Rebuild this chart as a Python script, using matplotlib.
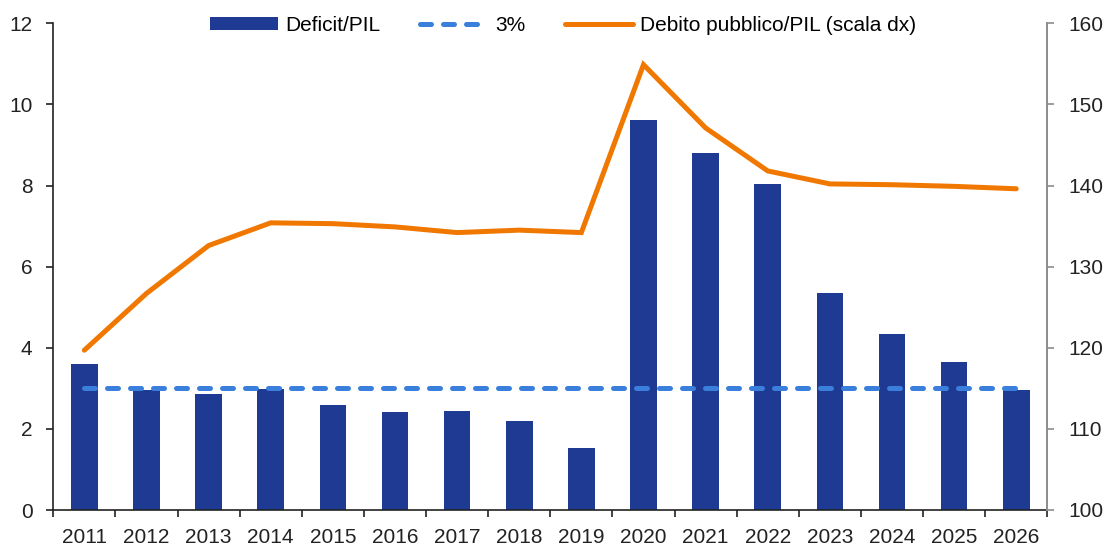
import matplotlib
matplotlib.use("Agg")
import matplotlib.pyplot as plt
import numpy as np
from matplotlib.ticker import FixedLocator

plt.rcParams['font.family'] = ['Liberation Sans', 'DejaVu Sans']

years = ["2011", "2012", "2013", "2014", "2015", "2016", "2017", "2018",
         "2019", "2020", "2021", "2022", "2023", "2024", "2025", "2026"]
deficit = [3.61, 2.96, 2.87, 2.98, 2.58, 2.42, 2.44, 2.19,
           1.52, 9.61, 8.79, 8.05, 5.35, 4.35, 3.66, 2.95]
threshold = [3.0] * len(years)
debt = [119.7, 126.7, 132.6, 135.4, 135.3, 134.9, 134.2, 134.5,
        134.2, 154.9, 147.1, 141.8, 140.2, 140.1, 139.9, 139.6]

bar_color = "#1F3A93"
dash_color = "#3A7FDB"
orange = "#F07800"
dark = "#222222"
gray = "#8C8C8C"

W, H = 1108, 545
fig = plt.figure(figsize=(W / 100, H / 100), dpi=100)
ax = fig.add_axes([53.3 / W, (H - 510) / H, 994 / W, 486.7 / H])
ax2 = ax.twinx()

x = np.arange(len(years))
b = ax.bar(x, deficit, width=0.43, color=bar_color, label="Deficit/PIL", zorder=2)
l1, = ax.plot(x, threshold, color=dash_color, lw=3.6, linestyle=(0, (2.2, 2.4)),
              dash_capstyle='round', label="3%", zorder=3)
l2, = ax2.plot(x, debt, color=orange, lw=3.6, solid_capstyle='round',
               solid_joinstyle='miter', label="Debito pubblico/PIL (scala dx)", zorder=4)

ax.set_xlim(-0.5, len(years) - 0.5)
ax.set_ylim(0, 12)
ax.set_yticks(np.arange(0, 13, 2))
ax2.set_ylim(100, 160)
ax2.set_yticks(np.arange(100, 161, 10))

fs = 15
ax.set_xticks(x)
ax.set_xticklabels(years)
ax.xaxis.set_minor_locator(FixedLocator(np.arange(-0.5, len(years), 1.0)))
ax.tick_params(axis='x', which='major', length=0, labelsize=fs, pad=13, colors=dark)
ax.tick_params(axis='x', which='minor', length=5, width=1.2, direction='out', color=dark)
ax.tick_params(axis='y', length=5, width=1.2, direction='out', labelsize=fs, colors=dark, pad=10)
ax2.tick_params(axis='y', length=5, width=1.2, direction='out', labelsize=fs, color=gray,
                labelcolor=dark, pad=10)

for a in (ax, ax2):
    a.spines['top'].set_visible(False)
ax.spines['right'].set_visible(False)
ax.spines['left'].set_color(dark)
ax.spines['bottom'].set_color(dark)
ax.spines['left'].set_linewidth(1.2)
ax.spines['bottom'].set_linewidth(1.2)
ax2.spines['left'].set_visible(False)
ax2.spines['bottom'].set_visible(False)
ax2.spines['right'].set_color(gray)
ax2.spines['right'].set_linewidth(1.4)
ax2.patch.set_visible(False)

fig.legend([b, l1, l2], ["Deficit/PIL", "3%", "Debito pubblico/PIL (scala dx)"],
           loc='center', bbox_to_anchor=(563 / W, 1 - 25.7 / H), ncol=3, frameon=False,
           fontsize=fs, handlelength=3.27, handleheight=0.6, columnspacing=1.9,
           handletextpad=0.34)

fig.savefig("out.png", dpi=100)
